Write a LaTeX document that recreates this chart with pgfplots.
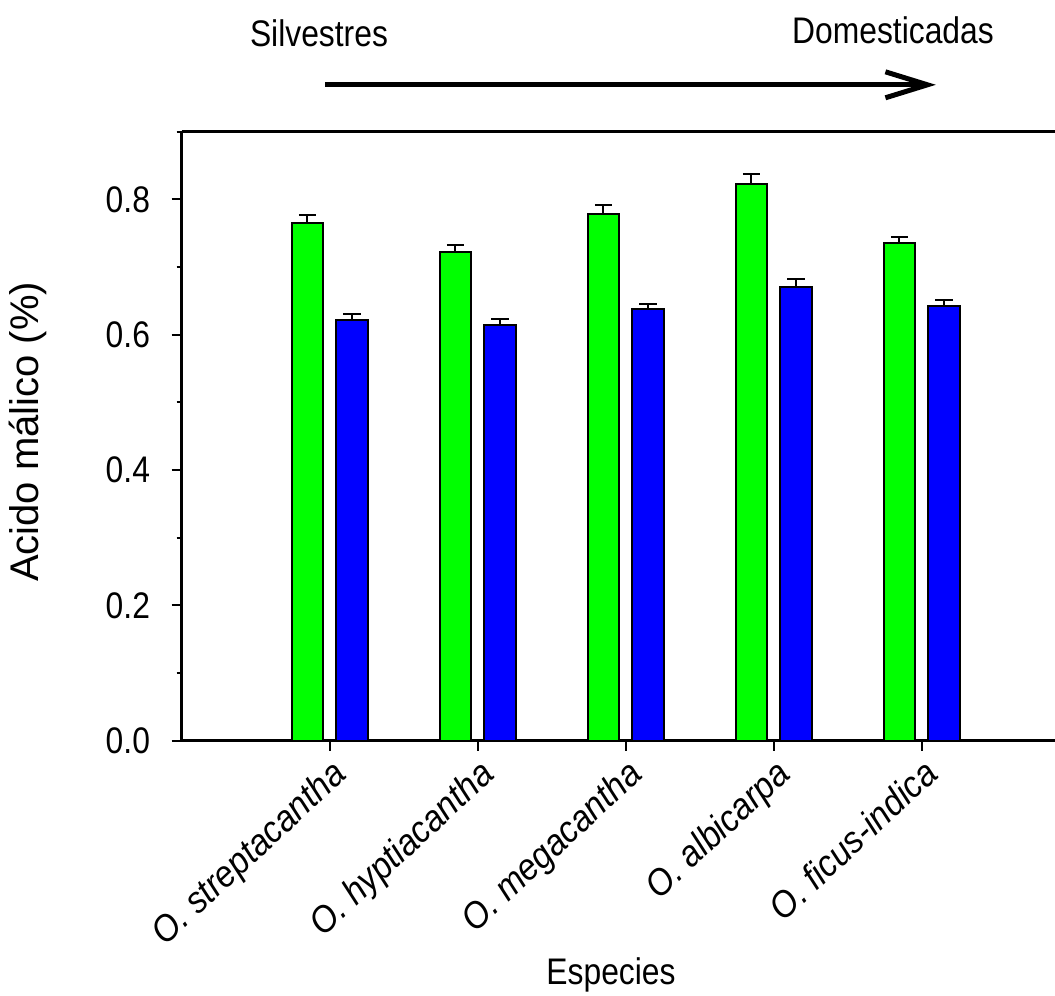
\documentclass[border=0pt]{standalone}
\usepackage{pgfplots}
\pgfplotsset{compat=1.18}
\usepackage{pgfplotstable}
\usepackage{fontspec}
\setmainfont{Liberation Sans}[FakeStretch=0.86]
\newfontfamily\plainsans{Liberation Sans}
\newfontfamily\xlabfont{Liberation Sans}[FakeStretch=0.91]
\usetikzlibrary{arrows.meta}
\definecolor{bargreen}{RGB}{0,255,0}
\definecolor{barblue}{RGB}{0,0,255}
\pgfplotstableread{
x y err
1 0.765 0.012
2 0.722 0.010
3 0.779 0.013
4 0.822 0.015
5 0.736 0.009
}\greendata
\pgfplotstableread{
x y err
1 0.621 0.009
2 0.615 0.008
3 0.638 0.007
4 0.670 0.013
5 0.643 0.009
}\bluedata
\begin{document}
\fontsize{18.5}{22}\selectfont
\begin{tikzpicture}
\path[use as bounding box] (-90.85pt,-127.65pt) rectangle (436.65pt,370.35pt);
\begin{axis}[
  at={(0,0)}, anchor=south west,
  scale only axis, width=436.65pt, height=304.5pt,
  xmin=0, xmax=5.9, ymin=0, ymax=0.9,
  separate axis lines,
  axis x line=box, axis y line=left,
  x axis line style={-, line width=1.3pt},
  y axis line style={-, line width=1.3pt},
  xtick={1,2,3,4,5},
  xticklabels={O. streptacantha,O. hyptiacantha,O. megacantha,O. albicarpa,O. ficus-indica},
  xtick pos=bottom, ytick pos=left,
  ytick={0,0.2,0.4,0.6,0.8},
  minor ytick={0.1,0.3,0.5,0.7,0.9},
  tick align=outside,
  major tick length=5pt, minor tick length=2.5pt,
  every tick/.style={black, line width=1pt},
  /pgf/number format/assume math mode=true,
  yticklabel style={/pgf/number format/.cd, fixed, fixed zerofill, precision=1},
  yticklabel shift=4.5pt,
  xticklabel style={rotate=43, anchor=north east, inner sep=2pt, font=\xlabfont\itshape},
  every axis y label/.style={at={(axis description cs:-0.176,0.507)}, rotate=90, anchor=center, font=\plainsans\fontsize{20}{24}\selectfont},
  every axis x label/.style={at={(axis description cs:0.4916,-0.3847)}, anchor=center},
  ylabel={Acido málico (\%)},
  xlabel={Especies},
  ybar, bar width=15.85pt,
  clip=false,
  error bars/y dir=plus, error bars/y explicit,
  error bars/error mark options={rotate=90, mark size=4.3pt, line width=1pt, black},
  error bars/error bar style={line width=1pt, black},
]
\addplot[fill=bargreen, draw=black, line width=1pt, bar shift=-11.15pt]
  table[x=x, y=y, y error=err] {\greendata};
\addplot[fill=barblue, draw=black, line width=1pt, bar shift=11.15pt]
  table[x=x, y=y, y error=err] {\bluedata};
\node[anchor=center] at (axis description cs:0.1572,1.162) {Silvestres};
\node[anchor=center] at (axis description cs:0.8145,1.167) {Domesticadas};
\draw[line width=2.5pt, -{Straight Barb[length=21pt, width=13pt]}]
  (axis description cs:0.1641,1.077) -- (axis description cs:0.8636,1.077);
\end{axis}
\end{tikzpicture}
\end{document}
